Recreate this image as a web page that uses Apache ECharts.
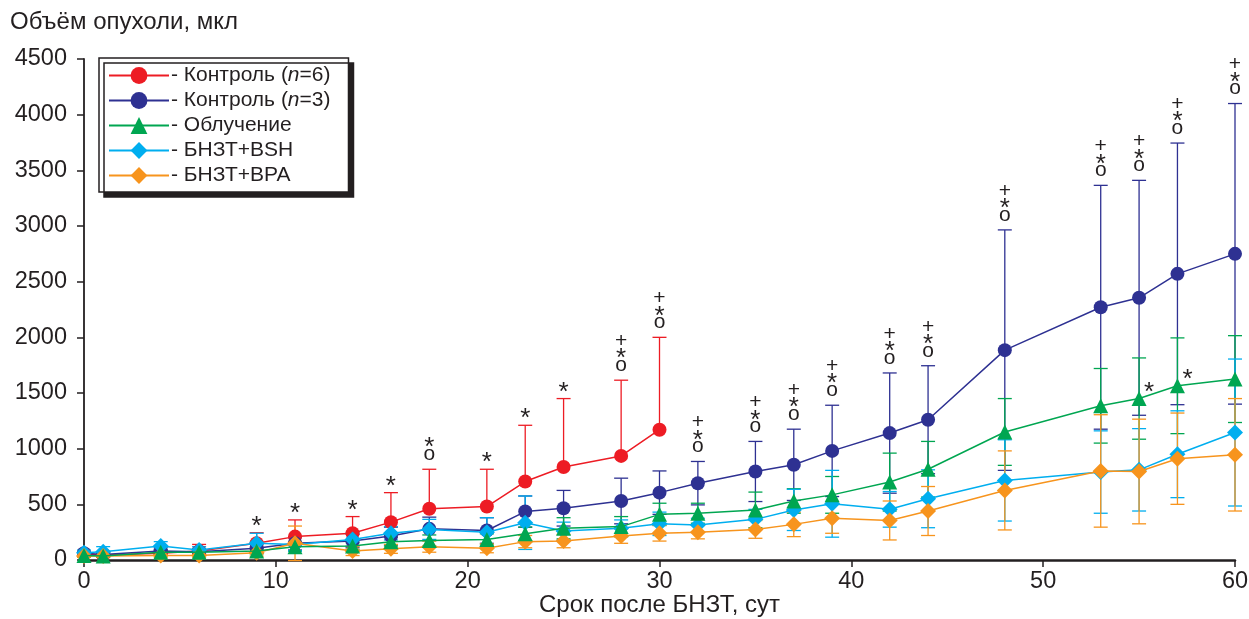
<!DOCTYPE html>
<html><head><meta charset="utf-8">
<script src="https://cdn.jsdelivr.net/npm/echarts@6/dist/echarts.min.js"></script>
<style>html,body{margin:0;padding:0;background:#fff}#c{width:1249px;height:619px}</style>
</head><body><div id="c"></div>
<script>
// ---- data ----
const days = [0,1,4,6,9,11,14,16,18,21,23,25,28,30,32,35,37,39,42,44,48,53,55,57,60];
// Контроль (n=6): measured only up to day 30
const ctrl6   = [55,45,60,80,150,210,240,340,460,480,705,835,935,1170];
const ctrl6Sd = [20,20,30,60,95,150,150,265,355,335,505,615,680,830];
const ctrl3   = [60,50,80,75,105,150,170,215,280,265,435,465,530,605,690,795,855,980,1140,1260,1885,2270,2355,2570,2750];
const ctrl3Sd = [15,15,30,30,40,60,60,80,105,115,140,160,205,195,195,270,320,410,540,485,1080,1095,1055,1175,1350];
const irr     = [40,35,70,70,80,120,125,165,175,185,235,285,300,410,420,450,530,585,700,815,1150,1385,1450,1565,1625];
const irrSd   = [10,10,20,20,25,40,30,40,50,50,60,95,90,100,90,160,110,165,260,250,300,335,365,430,390];
const bsh     = [65,75,125,90,150,140,185,240,275,250,335,260,285,325,315,365,450,505,455,550,715,790,810,950,1145];
const bshSd   = [25,45,40,30,90,60,60,60,90,130,240,80,75,105,60,90,185,300,160,260,365,370,370,390,660];
const bpa     = [35,35,40,40,65,150,80,100,120,105,165,170,215,240,250,275,320,375,355,440,625,800,795,910,945];
const bpaSd   = [10,10,15,15,30,155,40,40,50,40,55,60,65,70,60,80,110,135,175,220,355,505,470,410,505];

const names = ['Контроль (n=6)','Контроль (n=3)','Облучение','БНЗТ+BSH','БНЗТ+BPA'];
const yTicks = [0,500,1000,1500,2000,2500,3000,3500,4000,4500];
const xTicks = [0,10,20,30,40,50,60];

// significance marks: above control error bars
const annoT     = [9,11,14,16,18,21,23,25,28,30,32,35,37,39,42,44,48,53,55,57,60];
const annoMarks = ['*','*','*','*','*o','*','*','*','+*o','+*o','+*o','+*o','+*o','+*o','+*o','+*o','+*o','+*o','+*o','+*o','+*o'];
const greenStarT = [55,57];

// ---- styling ----
const C = {red:'#ed1c24', blue:'#2e3192', green:'#00a651', cyan:'#00aeef', orange:'#f7941d'};
const FONT = 'Liberation Sans, Arial, sans-serif';
const INK = '#231f20';

function pairs(vals){ return vals.map((v,i)=>[days[i], v]); }
function errData(vals, sd){ return vals.map((v,i)=>[days[i], v, sd[i]]); }
function errSeries(vals, sd, color, upOnly){
  return {
    type:'custom', silent:true, z:1, animation:false,
    encode:{x:0,y:1},
    data: errData(vals, sd),
    renderItem: function(params, api){
      const x=api.value(0), y=api.value(1), s=api.value(2);
      const top=api.coord([x,y+s]);
      const bot=api.coord([x, upOnly? y : y-s]);
      const w=7;
      const style={stroke:color, lineWidth:1.3};
      const ch=[
        {type:'line', shape:{x1:top[0],y1:top[1],x2:bot[0],y2:bot[1]}, style},
        {type:'line', shape:{x1:top[0]-w,y1:top[1],x2:top[0]+w,y2:top[1]}, style}
      ];
      if(!upOnly) ch.push({type:'line', shape:{x1:bot[0]-w,y1:bot[1],x2:bot[0]+w,y2:bot[1]}, style});
      return {type:'group', children:ch};
    }
  };
}
function lineSeries(name, vals, color, symbol, size, z){
  return {
    name, type:'line', data: pairs(vals), symbol, symbolSize:size, z,
    lineStyle:{color, width:1.5}, itemStyle:{color, borderWidth:0},
    animation:false, emphasis:{disabled:true}
  };
}

// anchors for marks: top of error bar of control groups
function capOf(t){
  const i = days.indexOf(t);
  if(t<=30) return ctrl6[i]+ctrl6Sd[i];
  return ctrl3[i]+ctrl3Sd[i];
}
const annoData = annoT.map((t,i)=>[t, capOf(t), i]);
const greenData = greenStarT.map(t=>[t, irr[days.indexOf(t)]]);

function markText(x,y,ch){
  const fs = ch==='*'?26:21;
  return {type:'text', x, y, style:{text:ch, fill:INK, font: fs+'px '+FONT, align:'center', verticalAlign:'middle'}};
}

const option = {
  backgroundColor:'#fff',
  animation:false,
  title:{text:'Объём опухоли, мкл', left:5, top:5, textStyle:{fontFamily:FONT, fontSize:24, fontWeight:'normal', color:INK}},
  grid:{left:84, right:14, top:59, bottom:59, containLabel:false, outerBoundsMode:'none'},
  legend:{
    orient:'vertical', left:99, top:58,
    data: names,
    padding:[7,18,6,9], itemGap:4, itemWidth:60, itemHeight:21,
    backgroundColor:'#fff', borderColor:INK, borderWidth:1.5, borderRadius:0,
    shadowColor:INK, shadowBlur:0, shadowOffsetX:5, shadowOffsetY:5,
    selectedMode:false,
    formatter: function(n){
      if(n.indexOf('(n=')>=0){ return '- ' + n.replace('(n=','({i|n}='); }
      return '- ' + n;
    },
    textStyle:{fontFamily:FONT, fontSize:21, color:INK, padding:[0,0,0,-3],
      rich:{i:{fontFamily:FONT, fontSize:21, fontStyle:'italic', color:INK}}}
  },
  xAxis:{
    type:'value', min:0, max:60, interval:10,
    name:'Срок после БНЗТ, сут', nameLocation:'middle', nameGap:33, nameMoveOverlap:false,
    nameTextStyle:{fontFamily:FONT, fontSize:24, color:INK, verticalAlign:'top'},
    axisLine:{show:true, onZero:false, lineStyle:{color:INK, width:2.5}},
    axisTick:{show:true, length:7, lineStyle:{color:INK, width:1.5}},
    axisLabel:{fontFamily:FONT, fontSize:23.5, color:INK, margin:10},
    splitLine:{show:false}
  },
  yAxis:{
    type:'value', min:0, max:4500, interval:500,
    axisLine:{show:true, onZero:false, lineStyle:{color:INK, width:1.8}},
    axisTick:{show:true, length:7, lineStyle:{color:INK, width:1.5}},
    axisLabel:{fontFamily:FONT, fontSize:23.5, color:INK, margin:17, formatter: v=>String(v)},
    splitLine:{show:false}
  },
  series:[
    errSeries(ctrl6, ctrl6Sd, C.red, true),
    errSeries(ctrl3, ctrl3Sd, C.blue, false),
    errSeries(irr, irrSd, C.green, false),
    errSeries(bsh, bshSd, C.cyan, false),
    errSeries(bpa, bpaSd, C.orange, false),
    lineSeries(names[0], ctrl6, C.red, 'circle', 14, 2),
    lineSeries(names[1], ctrl3, C.blue, 'circle', 14, 3),
    lineSeries(names[3], bsh, C.cyan, 'diamond', 16, 4),
    lineSeries(names[4], bpa, C.orange, 'diamond', 16, 5),
    lineSeries(names[2], irr, C.green, 'triangle', 15, 6),
    {
      type:'custom', silent:true, z:10, animation:false, encode:{x:0,y:1},
      data: annoData,
      renderItem: function(params, api){
        const p = api.coord([api.value(0), api.value(1)]);
        const marks = annoMarks[api.value(2)];
        const ch=[];
        if(marks==='*'){
          ch.push(markText(p[0], p[1]-6, '*'));
        } else {
          const list = marks.split('').reverse();
          const offs = {'o':-15,'*':-21,'+':-39};
          list.forEach(c=>ch.push(markText(p[0], p[1]+offs[c], c)));
        }
        return {type:'group', children:ch};
      }
    },
    {
      type:'custom', silent:true, z:10, animation:false, encode:{x:0,y:1},
      data: greenData,
      renderItem: function(params, api){
        const p = api.coord([api.value(0), api.value(1)]);
        return markText(p[0]+10, p[1]-6, '*');
      }
    }
  ]
};
const chart = echarts.init(document.getElementById('c'), null, {renderer:'canvas'});
chart.setOption(option);
</script>
</body></html>
